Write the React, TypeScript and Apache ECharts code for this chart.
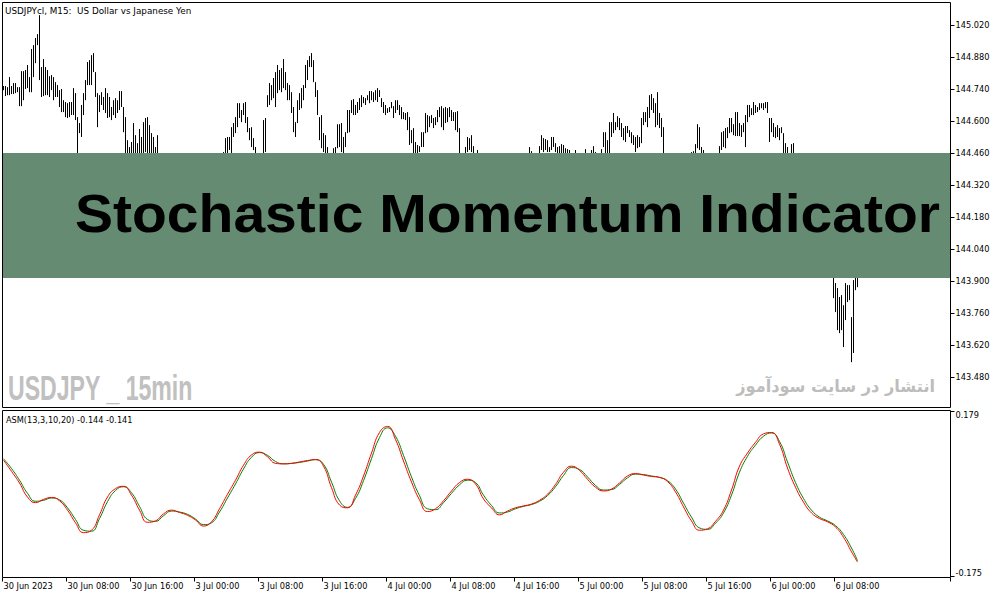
import * as echarts from 'echarts';
import { useEffect, useRef } from 'react';

// time axis: one slot per 15 min bar, a label every 32 bars (8 hours)
const timeLabels = [
  '30 Jun 2023', '30 Jun 08:00', '30 Jun 16:00', '3 Jul 00:00', '3 Jul 08:00',
  '3 Jul 16:00', '4 Jul 00:00', '4 Jul 08:00', '4 Jul 16:00', '5 Jul 00:00',
  '5 Jul 08:00', '5 Jul 16:00', '6 Jul 00:00', '6 Jul 08:00',
];
const BARS_PER_LABEL = 32;
const SLOT_COUNT = 474;

const priceTicks = [143.48, 143.62, 143.76, 143.9, 144.04, 144.18, 144.32, 144.46, 144.6, 144.74, 144.88, 145.02];
const asmTicks = [-0.175, 0.179];

// USDJPY M15 bar highs / lows
const barHigh = [
  144.753, 144.753, 144.748, 144.792, 144.753, 144.766, 144.766, 144.748, 144.748, 144.818,
  144.818, 144.823, 144.845, 144.792, 144.915, 144.932, 144.963, 144.980, 145.063, 144.836,
  144.871, 144.836, 144.823, 144.796, 144.801, 144.792, 144.770, 144.757, 144.735, 144.740,
  144.691, 144.683, 144.678, 144.683, 144.683, 144.744, 144.722, 144.617, 144.591, 144.670,
  144.722, 144.779, 144.858, 144.866, 144.888, 144.897, 144.814, 144.722, 144.713, 144.726,
  144.705, 144.744, 144.722, 144.705, 144.661, 144.691, 144.700, 144.691, 144.731, 144.731,
  144.661, 144.617, 144.516, 144.486, 144.508, 144.591, 144.538, 144.503, 144.565, 144.530,
  144.595, 144.613, 144.617, 144.582, 144.547, 144.530, 144.486, 144.538, 144.445, 144.430,
  144.420, 144.440, 144.450, 144.435, 144.420, 144.405, 144.415, 144.430, 144.440, 144.425,
  144.410, 144.395, 144.380, 144.400, 144.390, 144.370, 144.360, 144.375, 144.385, 144.370,
  144.355, 144.345, 144.365, 144.380, 144.395, 144.410, 144.420, 144.435, 144.445, 144.450,
  144.464, 144.525, 144.530, 144.530, 144.573, 144.591, 144.617, 144.678, 144.678, 144.648,
  144.678, 144.683, 144.617, 144.569, 144.573, 144.525, 144.486, 144.450, 144.440, 144.455,
  144.604, 144.613, 144.713, 144.766, 144.757, 144.788, 144.814, 144.845, 144.823, 144.831,
  144.871, 144.814, 144.766, 144.757, 144.726, 144.661, 144.595, 144.691, 144.722, 144.744,
  144.757, 144.845, 144.866, 144.884, 144.897, 144.866, 144.770, 144.735, 144.617, 144.626,
  144.547, 144.538, 144.486, 144.455, 144.450, 144.481, 144.486, 144.586, 144.586, 144.591,
  144.530, 144.551, 144.648, 144.648, 144.691, 144.696, 144.670, 144.683, 144.700, 144.713,
  144.705, 144.700, 144.713, 144.731, 144.731, 144.726, 144.735, 144.744, 144.735, 144.700,
  144.683, 144.670, 144.656, 144.661, 144.683, 144.665, 144.691, 144.691, 144.670, 144.661,
  144.639, 144.635, 144.639, 144.617, 144.560, 144.569, 144.508, 144.495, 144.490, 144.551,
  144.551, 144.635, 144.626, 144.621, 144.626, 144.613, 144.617, 144.648, 144.661, 144.665,
  144.656, 144.661, 144.656, 144.661, 144.648, 144.639, 144.639, 144.643, 144.569, 144.440,
  144.430, 144.486, 144.530, 144.525, 144.538, 144.490, 144.445, 144.473, 144.440, 144.430,
  144.415, 144.400, 144.385, 144.390, 144.375, 144.360, 144.370, 144.355, 144.345, 144.360,
  144.375, 144.365, 144.380, 144.395, 144.385, 144.400, 144.410, 144.400, 144.415, 144.425,
  144.420, 144.435, 144.440, 144.486, 144.468, 144.450, 144.445, 144.455, 144.490, 144.538,
  144.525, 144.521, 144.516, 144.486, 144.530, 144.530, 144.503, 144.486, 144.490, 144.499,
  144.495, 144.481, 144.477, 144.473, 144.450, 144.445, 144.473, 144.450, 144.440, 144.445,
  144.450, 144.477, 144.445, 144.450, 144.473, 144.490, 144.464, 144.455, 144.450, 144.477,
  144.551, 144.551, 144.516, 144.595, 144.595, 144.635, 144.595, 144.621, 144.613, 144.591,
  144.569, 144.578, 144.578, 144.560, 144.551, 144.538, 144.530, 144.538, 144.530, 144.613,
  144.639, 144.639, 144.661, 144.713, 144.718, 144.700, 144.678, 144.726, 144.635, 144.613,
  144.573, 144.450, 144.440, 144.425, 144.410, 144.395, 144.380, 144.370, 144.355, 144.365,
  144.380, 144.400, 144.420, 144.440, 144.464, 144.468, 144.499, 144.586, 144.573, 144.486,
  144.473, 144.440, 144.430, 144.420, 144.435, 144.445, 144.450, 144.455, 144.490, 144.551,
  144.556, 144.569, 144.573, 144.613, 144.613, 144.586, 144.639, 144.639, 144.591, 144.582,
  144.591, 144.626, 144.670, 144.670, 144.656, 144.683, 144.670, 144.661, 144.678, 144.678,
  144.678, 144.683, 144.683, 144.613, 144.613, 144.591, 144.573, 144.582, 144.569, 144.573,
  144.547, 144.503, 144.486, 144.455, 144.499, 144.503, 144.420, 144.395, 144.370, 144.345,
  144.330, 144.300, 144.270, 144.250, 144.235, 144.215, 144.190, 144.170, 144.150, 144.135,
  144.110, 144.085, 144.060, 144.040, 144.010, 143.960, 143.891, 143.869, 143.830, 143.838,
  143.794, 143.891, 143.882, 143.882, 143.742, 143.904, 143.940, 143.930,
];

const barLow = [
  144.735, 144.709, 144.713, 144.713, 144.718, 144.718, 144.722, 144.726, 144.665, 144.665,
  144.691, 144.740, 144.744, 144.726, 144.726, 144.792, 144.853, 144.932, 144.779, 144.705,
  144.709, 144.713, 144.713, 144.705, 144.735, 144.691, 144.705, 144.705, 144.661, 144.639,
  144.639, 144.617, 144.613, 144.617, 144.626, 144.626, 144.604, 144.410, 144.547, 144.530,
  144.626, 144.691, 144.757, 144.757, 144.757, 144.814, 144.705, 144.573, 144.639, 144.670,
  144.648, 144.635, 144.613, 144.617, 144.604, 144.626, 144.613, 144.635, 144.648, 144.661,
  144.551, 144.430, 144.420, 144.415, 144.430, 144.440, 144.445, 144.435, 144.440, 144.445,
  144.450, 144.464, 144.455, 144.440, 144.430, 144.420, 144.410, 144.415, 144.395, 144.380,
  144.370, 144.385, 144.400, 144.390, 144.365, 144.350, 144.360, 144.380, 144.395, 144.370,
  144.355, 144.340, 144.330, 144.345, 144.335, 144.320, 144.305, 144.325, 144.340, 144.320,
  144.300, 144.295, 144.310, 144.330, 144.345, 144.360, 144.375, 144.385, 144.400, 144.405,
  144.410, 144.420, 144.435, 144.473, 144.450, 144.530, 144.547, 144.573, 144.613, 144.595,
  144.626, 144.591, 144.551, 144.516, 144.486, 144.473, 144.420, 144.400, 144.385, 144.395,
  144.430, 144.464, 144.661, 144.670, 144.691, 144.700, 144.661, 144.722, 144.735, 144.726,
  144.744, 144.735, 144.691, 144.691, 144.635, 144.551, 144.530, 144.591, 144.648, 144.656,
  144.691, 144.744, 144.779, 144.836, 144.836, 144.770, 144.705, 144.626, 144.516, 144.481,
  144.464, 144.440, 144.420, 144.400, 144.395, 144.415, 144.420, 144.481, 144.486, 144.464,
  144.445, 144.486, 144.547, 144.551, 144.635, 144.626, 144.626, 144.635, 144.648, 144.661,
  144.678, 144.670, 144.691, 144.678, 144.691, 144.683, 144.691, 144.683, 144.705, 144.661,
  144.635, 144.626, 144.635, 144.639, 144.656, 144.613, 144.635, 144.648, 144.626, 144.608,
  144.608, 144.604, 144.560, 144.495, 144.503, 144.440, 144.430, 144.425, 144.464, 144.486,
  144.486, 144.547, 144.551, 144.573, 144.591, 144.569, 144.582, 144.595, 144.617, 144.573,
  144.560, 144.591, 144.595, 144.617, 144.600, 144.600, 144.560, 144.551, 144.420, 144.380,
  144.370, 144.410, 144.464, 144.473, 144.464, 144.425, 144.390, 144.405, 144.385, 144.375,
  144.360, 144.345, 144.330, 144.340, 144.320, 144.305, 144.315, 144.300, 144.295, 144.310,
  144.325, 144.315, 144.330, 144.345, 144.335, 144.350, 144.360, 144.355, 144.365, 144.375,
  144.370, 144.385, 144.390, 144.410, 144.415, 144.400, 144.395, 144.405, 144.420, 144.473,
  144.464, 144.473, 144.464, 144.464, 144.473, 144.486, 144.464, 144.440, 144.445, 144.440,
  144.445, 144.430, 144.425, 144.420, 144.405, 144.400, 144.420, 144.400, 144.395, 144.400,
  144.405, 144.420, 144.400, 144.410, 144.425, 144.430, 144.420, 144.410, 144.405, 144.420,
  144.486, 144.440, 144.445, 144.450, 144.530, 144.547, 144.560, 144.573, 144.560, 144.530,
  144.516, 144.508, 144.547, 144.530, 144.503, 144.495, 144.464, 144.481, 144.486, 144.503,
  144.582, 144.595, 144.573, 144.613, 144.648, 144.635, 144.573, 144.582, 144.569, 144.530,
  144.440, 144.395, 144.380, 144.370, 144.355, 144.340, 144.325, 144.310, 144.300, 144.310,
  144.325, 144.345, 144.365, 144.390, 144.405, 144.410, 144.420, 144.481, 144.473, 144.420,
  144.410, 144.390, 144.375, 144.365, 144.380, 144.390, 144.400, 144.405, 144.420, 144.473,
  144.486, 144.481, 144.525, 144.547, 144.551, 144.538, 144.534, 144.534, 144.534, 144.530,
  144.551, 144.486, 144.595, 144.617, 144.626, 144.626, 144.635, 144.639, 144.648, 144.656,
  144.648, 144.656, 144.635, 144.508, 144.551, 144.530, 144.525, 144.530, 144.516, 144.547,
  144.440, 144.430, 144.425, 144.405, 144.420, 144.415, 144.370, 144.340, 144.320, 144.295,
  144.270, 144.240, 144.215, 144.200, 144.185, 144.160, 144.135, 144.120, 144.100, 144.085,
  144.060, 144.035, 144.010, 143.985, 143.950, 143.825, 143.764, 143.685, 143.672, 143.685,
  143.611, 143.729, 143.808, 143.816, 143.545, 143.585, 143.860, 143.873,
];

// ASM(13,3,10,20), read once per hour (every 4 bars), last value on the last bar
const ASM_STEP = 4;
const asmMain = [
  0.074, 0.050, 0.025, -0.005, -0.017, -0.010, -0.006, -0.013, -0.033, -0.060,
  -0.081, -0.076, -0.043, -0.005, 0.013, 0.018, -0.001, -0.033, -0.059, -0.056,
  -0.041, -0.033, -0.038, -0.044, -0.054, -0.067, -0.058, -0.030, 0.001, 0.031,
  0.063, 0.085, 0.091, 0.081, 0.067, 0.066, 0.067, 0.070, 0.073, 0.075,
  0.061, 0.015, -0.022, -0.028, -0.001, 0.040, 0.089, 0.133, 0.146, 0.118,
  0.072, 0.027, -0.011, -0.036, -0.030, -0.013, 0.008, 0.026, 0.033, 0.023,
  -0.009, -0.028, -0.043, -0.035, -0.028, -0.024, -0.020, -0.012, 0.001, 0.022,
  0.048, 0.061, 0.052, 0.033, 0.016, 0.008, 0.012, 0.025, 0.040, 0.045,
  0.042, 0.039, 0.037, 0.028, 0.006, -0.026, -0.056, -0.076, -0.073, -0.057,
  -0.033, 0.010, 0.061, 0.089, 0.112, 0.130, 0.133, 0.108, 0.057, 0.016,
  -0.016, -0.039, -0.051, -0.058, -0.069, -0.091, -0.122, -0.144,
];
const asmSignal = [
  0.077, 0.056, 0.031, 0.003, -0.014, -0.012, -0.007, -0.011, -0.028, -0.053,
  -0.076, -0.078, -0.051, -0.015, 0.009, 0.017, 0.004, -0.025, -0.053, -0.057,
  -0.045, -0.035, -0.037, -0.042, -0.052, -0.064, -0.060, -0.037, -0.007, 0.023,
  0.055, 0.080, 0.090, 0.084, 0.071, 0.066, 0.067, 0.069, 0.072, 0.075,
  0.065, 0.027, -0.013, -0.027, -0.008, 0.030, 0.077, 0.122, 0.143, 0.125,
  0.084, 0.038, -0.002, -0.030, -0.032, -0.017, 0.003, 0.021, 0.031, 0.026,
  -0.001, -0.023, -0.039, -0.037, -0.030, -0.025, -0.021, -0.014, -0.002, 0.017,
  0.041, 0.058, 0.054, 0.038, 0.020, 0.010, 0.011, 0.022, 0.036, 0.044,
  0.043, 0.040, 0.037, 0.030, 0.012, -0.018, -0.048, -0.071, -0.074, -0.061,
  -0.039, -0.001, 0.048, 0.082, 0.106, 0.125, 0.132, 0.114, 0.070, 0.026,
  -0.008, -0.033, -0.048, -0.056, -0.066, -0.085, -0.114, -0.141,
];

const LAST_BAR = barHigh.length - 1;
const axisFont = 'DejaVu Sans';

const App = () => {
  const chartRef = useRef<HTMLDivElement>(null);

  useEffect(() => {
    if (!chartRef.current) return;
    const chart = echarts.init(chartRef.current, null, { renderer: 'svg' });

    const categories = Array.from({ length: SLOT_COUNT }, (_, i) =>
      i % BARS_PER_LABEL === 0 ? timeLabels[i / BARS_PER_LABEL] ?? '' : '',
    );
    const bars = barHigh.map((h, i) => [i, h, barLow[i]]);
    const toLine = (arr: number[]) => arr.map((v, k) => [Math.min(k * ASM_STEP, LAST_BAR), v]);
    const hasLabel = (_: number, value: string) => value !== '';

    const option = {
      animation: false,
      grid: [
        { left: 2.5, top: 2.5, width: 948, height: 405, show: false },
        { left: 2.5, top: 410.5, width: 948, height: 167, show: false },
      ],
      xAxis: [
        {
          type: 'category',
          gridIndex: 0,
          data: categories,
          boundaryGap: true,
          axisLine: { show: false, onZero: false },
          axisTick: { show: false },
          axisLabel: { show: false },
        },
        {
          type: 'category',
          gridIndex: 1,
          position: 'bottom',
          data: categories,
          boundaryGap: true,
          axisLine: { show: false, onZero: false },
          axisTick: { show: true, length: 4, interval: hasLabel, lineStyle: { color: '#000' } },
          axisLabel: {
            interval: hasLabel,
            align: 'left',
            margin: 4,
            color: '#000',
            fontSize: 8.2,
            fontFamily: axisFont,
          },
        },
      ],
      yAxis: [
        {
          type: 'value',
          gridIndex: 0,
          position: 'right',
          min: 143.3466,
          max: 145.1184,
          axisLine: { show: false },
          splitLine: { show: false },
          axisTick: { show: true, length: 4, customValues: priceTicks, lineStyle: { color: '#000' } },
          axisLabel: {
            customValues: priceTicks,
            formatter: (v: number) => v.toFixed(3),
            margin: 5,
            color: '#000',
            fontSize: 8.2,
            fontFamily: axisFont,
          },
        },
        {
          type: 'value',
          gridIndex: 1,
          position: 'right',
          min: -0.177,
          max: 0.18,
          axisLine: { show: false },
          splitLine: { show: false },
          axisTick: { show: true, length: 4, customValues: asmTicks, lineStyle: { color: '#000' } },
          axisLabel: {
            customValues: asmTicks,
            formatter: (v: number) => v.toFixed(3),
            margin: 5,
            color: '#000',
            fontSize: 8.2,
            fontFamily: axisFont,
            verticalAlignMinLabel: 'bottom',
            verticalAlignMaxLabel: 'top',
          },
        },
      ],
      series: [
        {
          type: 'custom',
          xAxisIndex: 0,
          yAxisIndex: 0,
          data: bars,
          encode: { x: 0, y: [1, 2] },
          silent: true,
          // eslint-disable-next-line @typescript-eslint/no-explicit-any
          renderItem: (_params: any, api: any) => {
            const i = api.value(0);
            const top = api.coord([i, api.value(1)]);
            const bottom = api.coord([i, api.value(2)]);
            return {
              type: 'line',
              shape: { x1: top[0], y1: top[1], x2: bottom[0], y2: bottom[1] },
              style: { stroke: '#000', lineWidth: 1 },
            };
          },
        },
        {
          type: 'line',
          xAxisIndex: 1,
          yAxisIndex: 1,
          data: toLine(asmSignal),
          smooth: true,
          symbol: 'none',
          silent: true,
          lineStyle: { color: '#008000', width: 1 },
        },
        {
          type: 'line',
          xAxisIndex: 1,
          yAxisIndex: 1,
          data: toLine(asmMain),
          smooth: true,
          symbol: 'none',
          silent: true,
          lineStyle: { color: '#ff0000', width: 1 },
        },
      ],
      graphic: [
        {
          type: 'rect',
          z: 100,
          shape: { x: 3, y: 153, width: 947, height: 125 },
          style: { fill: '#658c73' },
        },
        {
          type: 'text',
          z: 101,
          x: 75,
          y: 214,
          scaleX: 1.076,
          style: {
            text: 'Stochastic Momentum Indicator',
            font: 'bold 53px "Liberation Sans", Arial, sans-serif',
            fill: '#000',
            textVerticalAlign: 'middle',
          },
        },
        {
          type: 'text',
          z: 50,
          x: 8,
          y: 388,
          scaleX: 0.66,
          style: {
            text: 'USDJPY _ 15min',
            font: 'bold 35px "Liberation Sans", Arial, sans-serif',
            fill: '#c0c0c0',
            textVerticalAlign: 'middle',
          },
        },
        {
          type: 'text',
          z: 50,
          x: 935,
          y: 386,
          scaleX: 0.95,
          style: {
            text: 'انتشار در سایت سودآموز',
            font: 'bold 17px "DejaVu Sans", sans-serif',
            fill: '#bdbdbd',
            textAlign: 'right',
            textVerticalAlign: 'middle',
          },
        },
        {
          type: 'text',
          z: 50,
          x: 5,
          y: 10.5,
          style: {
            text: 'USDJPYcl, M15:\u00a0 US Dollar vs Japanese Yen',
            font: '8.8px "DejaVu Sans", sans-serif',
            fill: '#000',
            textVerticalAlign: 'middle',
          },
        },
        {
          type: 'text',
          z: 50,
          x: 6,
          y: 419.5,
          style: {
            text: 'ASM(13,3,10,20) -0.144 -0.141',
            font: '8.2px "DejaVu Sans", sans-serif',
            fill: '#000',
            textVerticalAlign: 'middle',
          },
        },
        {
          type: 'rect',
          z: 110,
          shape: { x: 2.5, y: 2.5, width: 948, height: 405 },
          style: { fill: 'none', stroke: '#000', lineWidth: 1 },
        },
        {
          type: 'rect',
          z: 110,
          shape: { x: 2.5, y: 410.5, width: 948, height: 167 },
          style: { fill: 'none', stroke: '#000', lineWidth: 1 },
        },
      ],
    };

    chart.setOption(option);

    return () => {
      chart.dispose();
    };
  }, []);

  return (
    <div
      ref={chartRef}
      style={{ position: 'absolute', left: 0, top: 0, width: 1003, height: 598, background: '#fff' }}
    />
  );
};

export default App;
